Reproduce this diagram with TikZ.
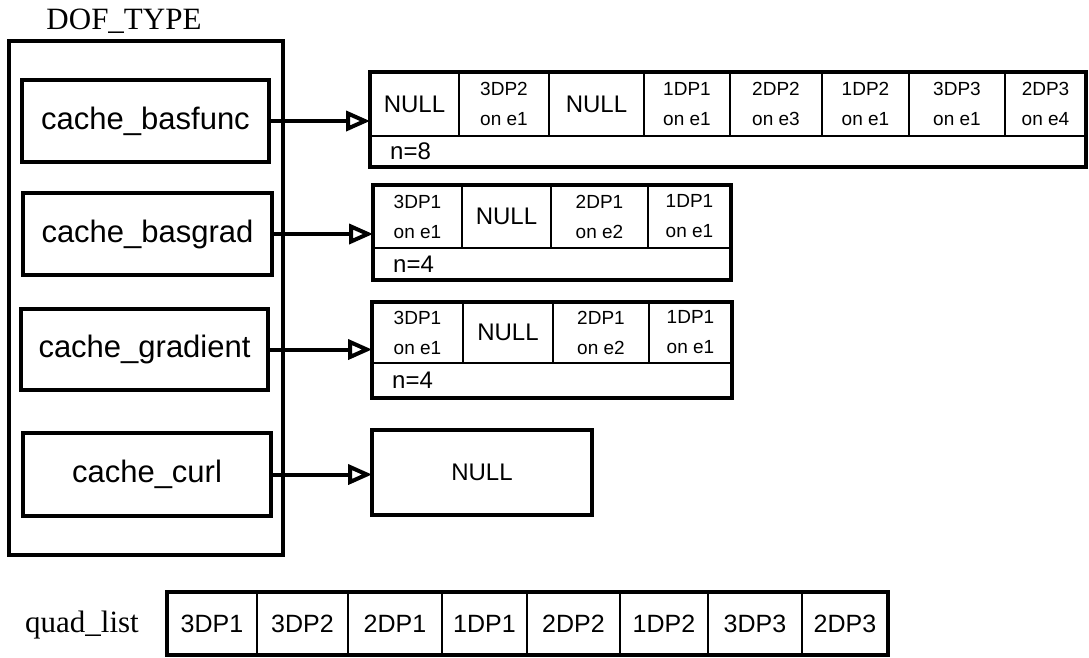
\documentclass[tikz,border=0pt]{standalone}
\usepackage{fontspec}
\setmainfont{Liberation Serif}
\newfontfamily\arial{Liberation Sans}
\usetikzlibrary{arrows.meta}
\tikzset{
  boxnode/.style={draw, line width=4.5pt, rectangle, inner sep=0pt, outer sep=0pt, font=\arial\fontsize{31}{36}\selectfont},
  cellbox/.style={draw, line width=2.8pt, rectangle, inner sep=0pt, outer sep=0pt, align=center, font=\arial\fontsize{19}{30}\selectfont},
  bigcell/.style={cellbox, font=\arial\fontsize{24}{28}\selectfont},
  quadcell/.style={cellbox, font=\arial\fontsize{25}{28}\selectfont},
  listframe/.style={draw, line width=4pt, rectangle, inner sep=0pt, outer sep=0pt},
  smalltext/.style={inner sep=0pt, font=\arial\fontsize{24}{28}\selectfont},
  timestext/.style={inner sep=0pt, font=\fontsize{31}{36}\selectfont},
  arr/.style={line width=4pt, -{Triangle[open, length=24pt, width=20pt, line width=4pt]}}
}
\newcommand\mybox[7][boxnode]{\node[#1, minimum width={#4-#3}, minimum height={#6-#5}] (#2) at ({(#3+#4)/2},{(#5+#6)/2}) {#7};}
\begin{document}
\begin{tikzpicture}[x=1pt, y=-1pt]
\useasboundingbox (0,0) rectangle (1089,657);
% DOF_TYPE container
\node[timestext] (doflabel) at (124,21) {DOF\_TYPE};
\mybox[listframe, line width=3.2pt]{dof}{9}{283}{41}{555}{}
\mybox{bf}{22}{269}{80}{162}{cache\_basfunc}
\mybox{bg}{23}{272}{193}{275}{cache\_basgrad}
\mybox{gr}{21}{268}{309}{390}{cache\_gradient}
\mybox{cu}{23}{271}{433}{516}{cache\_curl}

% list 1 (cache_basfunc)
\mybox[bigcell]{a1}{370}{459}{72}{136}{NULL}
\mybox[cellbox]{a2}{459}{549}{72}{136}{3DP2\\on e1}
\mybox[bigcell]{a3}{549}{644}{72}{136}{NULL}
\mybox[cellbox]{a4}{644}{730}{72}{136}{1DP1\\on e1}
\mybox[cellbox]{a5}{730}{822}{72}{136}{2DP2\\on e3}
\mybox[cellbox]{a6}{822}{909}{72}{136}{1DP2\\on e1}
\mybox[cellbox]{a7}{909}{1005}{72}{136}{3DP3\\on e1}
\mybox[cellbox]{a8}{1005}{1086}{72}{136}{2DP3\\on e4}
\mybox[cellbox]{ar}{370}{1086}{136}{167}{}
\node[smalltext, anchor=west] (an) at ([xshift=20pt]ar.west) {n=8};
\mybox[listframe]{L1}{370}{1086}{72}{167}{}

% list 2 (cache_basgrad)
\mybox[cellbox]{b1}{373}{462}{185}{248}{3DP1\\on e1}
\mybox[bigcell]{b2}{462}{551}{185}{248}{NULL}
\mybox[cellbox]{b3}{551}{648}{185}{248}{2DP1\\on e2}
\mybox[cellbox]{b4}{648}{731}{185}{248}{1DP1\\on e1}
\mybox[cellbox]{br}{373}{732}{248}{280}{}
\node[smalltext, anchor=west] (bn) at ([xshift=20pt]br.west) {n=4};
\mybox[listframe]{L2}{373}{731}{185}{280}{}

% list 3 (cache_gradient)
\mybox[cellbox]{c1}{372}{463}{302}{363}{3DP1\\on e1}
\mybox[bigcell]{c2}{463}{553}{302}{363}{NULL}
\mybox[cellbox]{c3}{553}{649}{302}{363}{2DP1\\on e2}
\mybox[cellbox]{c4}{649}{732}{302}{363}{1DP1\\on e1}
\mybox[cellbox]{cr}{372}{733}{363}{398}{}
\node[smalltext, anchor=west] (cn) at ([xshift=20pt]cr.west) {n=4};
\mybox[listframe]{L3}{372}{732}{302}{398}{}

% NULL box (cache_curl)
\mybox[listframe, font=\arial\fontsize{24}{28}\selectfont]{L4}{372}{592}{430}{515}{NULL}

% arrows
\draw[arr] (bf.east) -- (bf.east -| L1.west);
\draw[arr] (bg.east) -- (bg.east -| L2.west);
\draw[arr] (gr.east) -- (gr.east -| L3.west);
\draw[arr] (cu.east) -- (cu.east -| L4.west);

% quad_list
\node[timestext] (qlabel) at (82,625) {quad\_list};
\mybox[quadcell]{q1}{167}{257}{592}{655}{3DP1}
\mybox[quadcell]{q2}{257}{348}{592}{655}{3DP2}
\mybox[quadcell]{q3}{348}{442}{592}{655}{2DP1}
\mybox[quadcell]{q4}{442}{527}{592}{655}{1DP1}
\mybox[quadcell]{q5}{527}{620}{592}{655}{2DP2}
\mybox[quadcell]{q6}{620}{708}{592}{655}{1DP2}
\mybox[quadcell]{q7}{708}{802}{592}{655}{3DP3}
\mybox[quadcell]{q8}{802}{888}{592}{655}{2DP3}
\mybox[listframe]{Q}{167}{888}{592}{655}{}
\end{tikzpicture}
\end{document}
